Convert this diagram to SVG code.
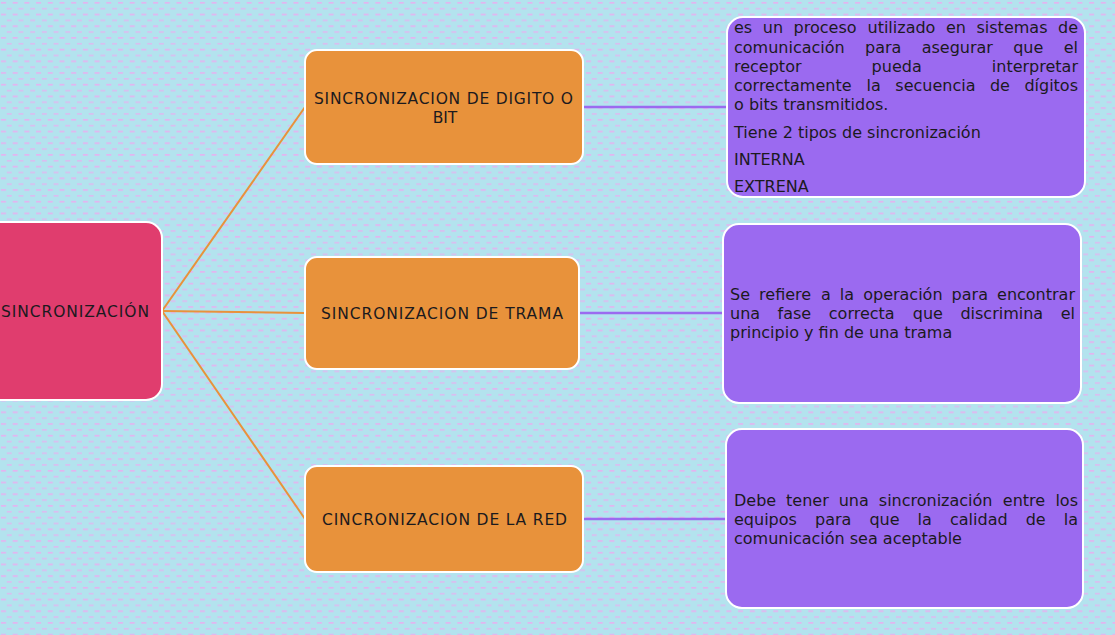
<svg xmlns="http://www.w3.org/2000/svg" width="1115" height="635" viewBox="0 0 1115 635">
<style>
.lbl{font-family:"DejaVu Sans","Liberation Sans",sans-serif;font-size:16px;fill:#1c1a1e}
.cap{font-family:"DejaVu Sans","Liberation Sans",sans-serif;font-size:15.5px;fill:#1c1a1e;text-anchor:middle}
.box{stroke:#ffffff;stroke-width:2}
.or{fill:#E8923B}
.pu{fill:#9B6AF0}
.oline{stroke:#E8923B;stroke-width:2;fill:none}
.pline{stroke:#9B6AF0;stroke-width:2.5;fill:none}
.e{text-anchor:end}
</style>
<defs>
<pattern id="bg" width="11.7" height="11.7" patternUnits="userSpaceOnUse">
<rect width="11.7" height="11.7" fill="#B3E3EE"/>
<rect x="1" y="2" width="5" height="1.6" fill="#E6B2F0"/>
<rect x="6.85" y="7.85" width="5" height="1.6" fill="#E6B2F0" opacity="0.8"/>
</pattern>
</defs>
<rect width="1115" height="635" fill="url(#bg)"/>
<g id="connectors">
<line class="oline" x1="162" y1="311" x2="305" y2="107"/>
<line class="oline" x1="162" y1="311" x2="305" y2="313"/>
<line class="oline" x1="162" y1="311" x2="305" y2="519"/>
<line class="pline" x1="583" y1="107" x2="727" y2="107"/>
<line class="pline" x1="579" y1="313" x2="723" y2="313"/>
<line class="pline" x1="583" y1="519" x2="726" y2="519"/>
</g>
<g id="root">
<rect class="box" x="-16" y="222" width="178" height="178" rx="16" fill="#E03D6E"/>
<text class="cap" x="75" y="316.5" textLength="148" lengthAdjust="spacing">SINCRONIZACIÓN</text>
</g>
<g id="n1">
<rect class="box or" x="305" y="50" width="278" height="114" rx="12"/>
<text class="cap" x="443.5" y="104" textLength="259" lengthAdjust="spacing">SINCRONIZACION DE DIGITO O</text>
<text class="cap" x="445" y="123">BIT</text>
</g>
<g id="n2">
<rect class="box or" x="305" y="257" width="274" height="112" rx="12"/>
<text class="cap" x="442" y="318.5" textLength="242" lengthAdjust="spacing">SINCRONIZACION DE TRAMA</text>
</g>
<g id="n3">
<rect class="box or" x="305" y="466" width="278" height="106" rx="12"/>
<text class="cap" x="444.5" y="524.5" textLength="245" lengthAdjust="spacing">CINCRONIZACION DE LA RED</text>
</g>
<g id="d1">
<rect class="box pu" x="727" y="17" width="358" height="180" rx="16"/>
<text class="lbl" y="33"><tspan x="734">es</tspan><tspan x="762.8">un</tspan><tspan x="793.6">proceso</tspan><tspan x="867.5">utilizado</tspan><tspan x="945.9">en</tspan><tspan x="976.5">sistemas</tspan><tspan x="1078" class="e">de</tspan></text>
<text class="lbl" y="52.5"><tspan x="734">comunicación</tspan><tspan x="865">para</tspan><tspan x="921.7">asegurar</tspan><tspan x="1013.2">que</tspan><tspan x="1078" class="e">el</tspan></text>
<text class="lbl" y="72"><tspan x="734">receptor</tspan><tspan x="871.6">pueda</tspan><tspan x="1078" class="e">interpretar</tspan></text>
<text class="lbl" y="91"><tspan x="734">correctamente</tspan><tspan x="866.6">la</tspan><tspan x="895.3">secuencia</tspan><tspan x="989.9">de</tspan><tspan x="1078" class="e">dígitos</tspan></text>
<text class="lbl" x="734" y="110">o bits transmitidos.</text>
<text class="lbl" x="734" y="138">Tiene 2 tipos de sincronización</text>
<text class="lbl" x="734" y="165">INTERNA</text>
<text class="lbl" x="734" y="191.5">EXTRENA</text>
</g>
<g id="d2">
<rect class="box pu" x="723" y="224" width="358" height="179" rx="16"/>
<text class="lbl" y="300"><tspan x="730">Se</tspan><tspan x="759.1">refiere</tspan><tspan x="821">a</tspan><tspan x="839.8">la</tspan><tspan x="863.2">operación</tspan><tspan x="951.6">para</tspan><tspan x="1075" class="e">encontrar</tspan></text>
<text class="lbl" y="319"><tspan x="730">una</tspan><tspan x="777.6">fase</tspan><tspan x="828.8">correcta</tspan><tspan x="912.8">que</tspan><tspan x="960.4">discrimina</tspan><tspan x="1075" class="e">el</tspan></text>
<text class="lbl" x="730" y="338.3">principio y fin de una trama</text>
</g>
<g id="d3">
<rect class="box pu" x="726" y="429" width="357" height="179" rx="16"/>
<text class="lbl" y="506"><tspan x="734">Debe</tspan><tspan x="786.1">tener</tspan><tspan x="838.7">una</tspan><tspan x="878.8">sincronización</tspan><tspan x="1002.8">entre</tspan><tspan x="1078" class="e">los</tspan></text>
<text class="lbl" y="525"><tspan x="734">equipos</tspan><tspan x="815">para</tspan><tspan x="869.4">que</tspan><tspan x="917.6">la</tspan><tspan x="950">calidad</tspan><tspan x="1025.7">de</tspan><tspan x="1078" class="e">la</tspan></text>
<text class="lbl" x="734" y="544">comunicación sea aceptable</text>
</g>
</svg>
